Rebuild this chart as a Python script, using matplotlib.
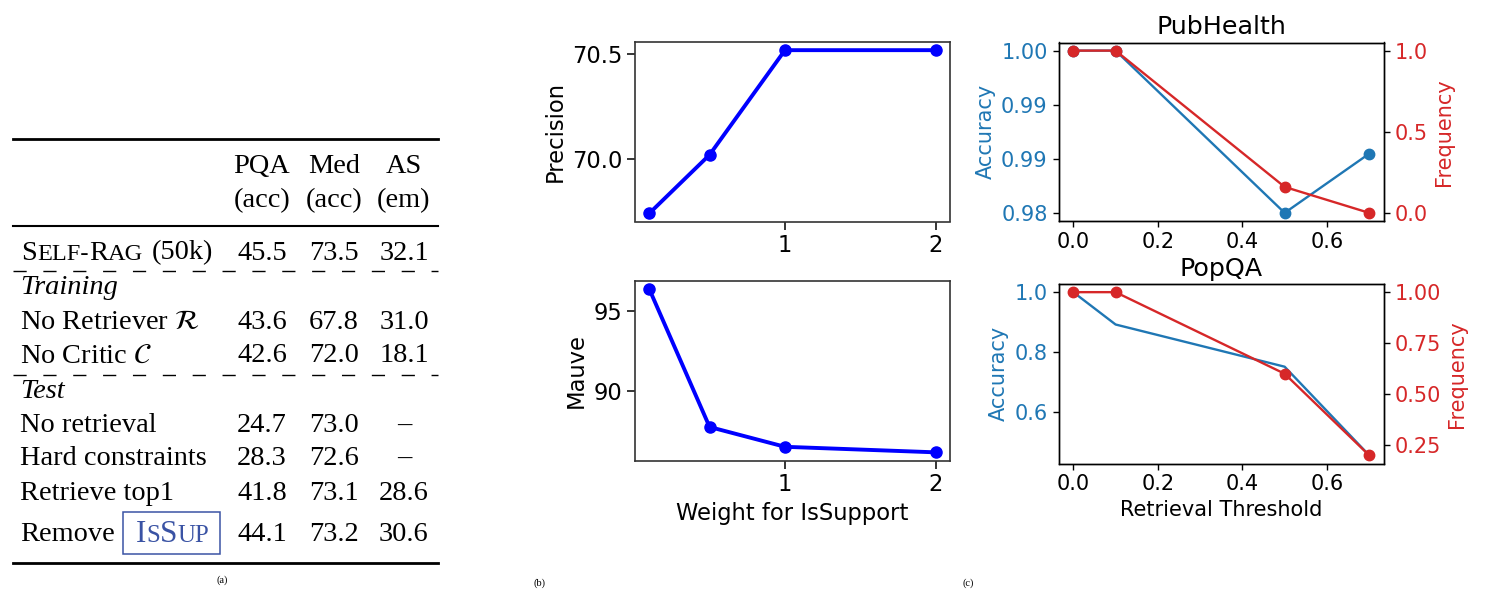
import numpy as np
import matplotlib
matplotlib.use("Agg")
import matplotlib.pyplot as plt
from matplotlib.ticker import FormatStrFormatter

plt.rcParams['mathtext.fontset'] = 'stix'

# ---- table (a)
col_heads = ['PQA', 'Med', 'AS']
col_units = ['(acc)', '(acc)', '(em)']
base_scores = ['45.5', '73.5', '32.1']
train_rows = [r'No Retriever $\mathcal{R}$', r'No Critic $\mathcal{C}$']
train_scores = [['43.6', '67.8', '31.0'], ['42.6', '72.0', '18.1']]
test_rows = ['No retrieval', 'Hard constraints', 'Retrieve top1']
test_scores = [['24.7', '73.0', '–'], ['28.3', '72.6', '–'], ['41.8', '73.1', '28.6']]
remove_scores = ['44.1', '73.2', '30.6']

# ---- (b) weight for IsSupport
weights = [0.1, 0.5, 1, 2]
precision = [69.74, 70.02, 70.52, 70.52]
mauve = [96.4, 87.7, 86.45, 86.1]

# ---- (c) retrieval threshold
thresholds = [0.0, 0.1, 0.5, 0.7]
pub_acc = [1.0, 1.0, 0.98, 0.9873]
pub_freq = [1.0, 1.0, 0.16, 0.0]
pop_acc = [1.0, 0.892, 0.751, 0.455]
pop_freq = [1.0, 1.0, 0.6, 0.2]

W, H = 1488, 602
fig = plt.figure(figsize=(W / 100, H / 100), dpi=100)
fig.patch.set_facecolor('white')

SERIF = 'Liberation Serif'
FS = 20.4
BLUE_BOX = '#3a53a4'

tab = fig.add_axes([0, 0, 1, 1])
tab.set_xlim(0, W)
tab.set_ylim(H, 0)
tab.axis('off')

renderer = fig.canvas.get_renderer()


def put_runs(x, y, parts, color='black', fs=FS):
    # parts: (text, size factor); an empty text just moves x by the factor (px)
    for s, scale in parts:
        if s == '':
            x += scale
            continue
        t = tab.text(x, y, s, fontsize=fs * scale, family=SERIF, color=color,
                     va='baseline', ha='left')
        x += t.get_window_extent(renderer=renderer).width
    return x


cols_x = [262, 334, 404]
LX = 20

def put_scores(y, vals):
    for cx, v in zip(cols_x, vals):
        tab.text(cx, y, v, fontsize=FS, family=SERIF, ha='center', va='baseline')

# rules
tab.plot([13, 438], [139, 139], color='black', lw=2.0)
tab.plot([13, 438], [226, 226], color='black', lw=1.5)
tab.plot([13, 438], [562.5, 562.5], color='black', lw=2.0)
for yd in [271, 374.5]:
    tab.plot([13, 438], [yd, yd], color='black', lw=1.0, linestyle=(0, (9.5, 12)))

for cx, h, u in zip(cols_x, col_heads, col_units):
    tab.text(cx, 173, h, fontsize=FS, family=SERIF, ha='center', va='baseline')
    tab.text(cx, 207, u, fontsize=FS, family=SERIF, ha='center', va='baseline')

SC = 0.86
put_runs(LX + 1.5, 259.5, [('S', 1), ('ELF-', SC), ('R', 1), ('AG', SC), ('', 9), ('(50k)', 1)])
put_scores(259.5, base_scores)

tab.text(LX, 294, 'Training', fontsize=FS, family=SERIF, style='italic', va='baseline')
for y, name, vals in zip([329, 362.5], train_rows, train_scores):
    tab.text(LX, y, name, fontsize=FS, family=SERIF, va='baseline')
    put_scores(y, vals)

tab.text(LX, 397.5, 'Test', fontsize=FS, family=SERIF, style='italic', va='baseline')
for y, name, vals in zip([431.5, 465, 500], test_rows, test_scores):
    tab.text(LX, y, name, fontsize=FS, family=SERIF, va='baseline')
    put_scores(y, vals)

tab.text(LX, 541, 'Remove', fontsize=FS, family=SERIF, va='baseline')
tab.add_patch(plt.Rectangle((122.5, 511.5), 97, 42.5, fill=False,
                            edgecolor=BLUE_BOX, lw=1.1))
put_runs(135.5, 541.5, [('I', 1), ('S', 0.8), ('S', 1), ('UP', 0.8)],
         color=BLUE_BOX, fs=FS * 1.1)
put_scores(541, remove_scores)

for lx, ly, lab in [(222, 580, '(a)'), (540, 583, '(b)'), (968, 583, '(c)')]:
    tab.text(lx, ly, lab, fontsize=7.5, family=SERIF, ha='center', va='center')


def px_axes(l, t, r, b):
    return fig.add_axes([l / W, 1 - b / H, (r - l) / W, (b - t) / H])


# ---- (b)
MFS = 16.3
for_mid = dict(labelsize=MFS, length=5.5, width=1.1)
ax_p = px_axes(635, 42, 950, 221.5)
ax_p.plot(weights, precision, color='blue', marker='o', lw=2.8, ms=8)
ax_p.set_xticks([1, 2])
ax_p.set_yticks([70.0, 70.5])
ax_p.set_ylabel('Precision', fontsize=MFS)
ax_p.tick_params(**for_mid)

ax_m = px_axes(635, 281, 950, 460.5)
ax_m.plot(weights, mauve, color='blue', marker='o', lw=2.8, ms=8)
ax_m.set_xticks([1, 2])
ax_m.set_yticks([90, 95])
ax_m.set_ylabel('Mauve', fontsize=MFS)
ax_m.set_xlabel('Weight for IsSupport', fontsize=MFS)
ax_m.tick_params(**for_mid)
for a in (ax_p, ax_m):
    for sp in a.spines.values():
        sp.set_linewidth(1.2)
        sp.set_color('#333333')

# ---- (c)
RFS = 15
c1, c2 = 'tab:blue', 'tab:red'
rt = dict(labelsize=RFS, length=4.3, width=1.0)

ax_h = px_axes(1058.5, 42.5, 1384, 221)
ax_h.plot(thresholds, pub_acc, color=c1, marker='o', lw=1.7, ms=7.5)
ax_h.set_yticks(np.linspace(0.98, 1.0, 4))
ax_h.yaxis.set_major_formatter(FormatStrFormatter('%.2f'))
ax_h.set_ylabel('Accuracy', color=c1, fontsize=RFS)
ax_h.tick_params(axis='y', labelcolor=c1, **rt)
ax_h.tick_params(axis='x', **rt)
ax_h.set_title('PubHealth', fontsize=18.3)
ax_h2 = ax_h.twinx()
ax_h2.plot(thresholds, pub_freq, color=c2, marker='o', lw=1.7, ms=7.5)
ax_h2.set_yticks([0.0, 0.5, 1.0])
ax_h2.set_ylabel('Frequency', color=c2, fontsize=RFS)
ax_h2.tick_params(axis='y', labelcolor=c2, **rt)

ax_q = px_axes(1058.5, 284, 1384, 463.5)
ax_q.plot(thresholds, pop_acc, color=c1, lw=1.7)
ax_q.set_yticks([0.6, 0.8, 1.0])
ax_q.set_ylabel('Accuracy', color=c1, fontsize=RFS)
ax_q.set_xlabel('Retrieval Threshold', fontsize=RFS)
ax_q.tick_params(axis='y', labelcolor=c1, **rt)
ax_q.tick_params(axis='x', **rt)
ax_q.set_title('PopQA', fontsize=18.3)
ax_q2 = ax_q.twinx()
ax_q2.plot(thresholds, pop_freq, color=c2, marker='o', lw=1.7, ms=7.5)
ax_q2.set_yticks([0.25, 0.5, 0.75, 1.0])
ax_q2.set_ylabel('Frequency', color=c2, fontsize=RFS)
ax_q2.tick_params(axis='y', labelcolor=c2, **rt)

for a in (ax_h, ax_h2, ax_q, ax_q2):
    for sp in a.spines.values():
        sp.set_linewidth(1.0)

fig.savefig('out.png', dpi=100)
